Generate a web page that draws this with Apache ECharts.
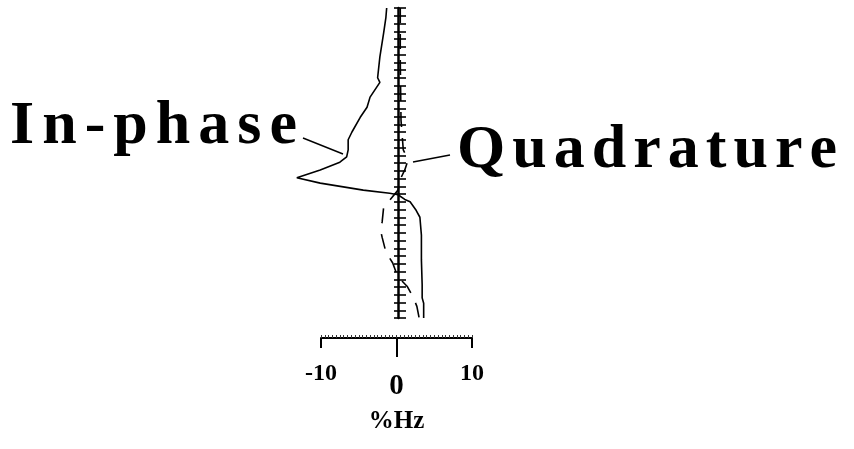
<!DOCTYPE html>
<html>
<head>
<meta charset="utf-8">
<script src="https://cdn.jsdelivr.net/npm/echarts@6/dist/echarts.min.js"></script>
<style>html,body{margin:0;padding:0;background:#fff}#main{width:854px;height:449px}</style>
</head>
<body>
<div id="main"></div>
<script>
// %Hz deviation against depth (depth counted in ticks from the top of the spine)
var inPhaseHz    = [-1.5, -1.6, -1.9, -2.4, -2.7, -2.4, -3.7, -4.1, -5.0, -6.1, -6.6, -6.6, -6.8, -7.7, -10.3, -13.4, -10.3, -4.6, -1.1, 0, 0.9, 1.6, 2.4, 2.9, 3.1, 3.1, 3.2, 3.2, 3.4, 3.4];
var inPhaseDepth = [0, 1.2, 3.2, 6.3, 9.0, 9.6, 11.5, 12.8, 14.1, 16.0, 17.0, 18.3, 19.2, 19.9, 20.9, 21.9, 22.6, 23.5, 23.9, 24.1, 24.7, 25.0, 26.1, 27.0, 29.3, 32.5, 35.7, 37.4, 38.1, 40];
var quadHz       = [0.3, 0.3, 0.4, 0.7, 1.1, 1.2, 0.9, 0.4, 0, -1.1, -1.9, -2.1, -2.3, -2.1, -1.6, -0.7, -0.1, 0.5, 1.2, 2.0, 2.5, 2.8];
var quadDepth    = [0, 6.7, 14.5, 18.3, 19.1, 20.0, 20.9, 21.9, 23.5, 24.8, 25.7, 27.6, 28.7, 29.6, 31.5, 32.9, 34.5, 35.2, 35.9, 37.3, 38.5, 40];
var scaleTicks = [-10, 10];
var scaleZero = [0];

var FONT = '"Liberation Serif", "Times New Roman", serif';

function pairs(xs, ys) {
  return xs.map(function (v, i) { return [v, ys[i]]; });
}

// big labels are letter spaced, so place each letter
var ctx = document.createElement('canvas').getContext('2d');
function spacedText(str, left, right, y, size) {
  ctx.font = 'bold ' + size + 'px ' + FONT;
  var chars = str.split('');
  var widths = chars.map(function (c) { return ctx.measureText(c).width; });
  var total = widths.reduce(function (a, b) { return a + b; }, 0);
  var gap = (right - left - total) / (chars.length - 1);
  var x = left;
  return chars.map(function (c, i) {
    var el = {
      type: 'text', x: x, y: y,
      style: { text: c, font: 'bold ' + size + 'px ' + FONT, fill: '#000', verticalAlign: 'middle' }
    };
    x += widths[i] + gap;
    return el;
  });
}

var myChart = echarts.init(document.getElementById('main'));
var option = {
  backgroundColor: '#fff',
  animation: false,
  grid: [
    { left: 284.75, top: 8, width: 188.75, height: 310 },
    { left: 321, top: 300, width: 151, height: 38 }
  ],
  xAxis: [
    { gridIndex: 0, type: 'value', min: -15, max: 10, show: false },
    { // scale bar, labels at +-10
      gridIndex: 1, type: 'value', min: -10, max: 10, interval: 10, position: 'bottom',
      axisLine: { onZero: false, lineStyle: { color: '#000', width: 2 } },
      axisTick: { customValues: scaleTicks, length: 10, lineStyle: { color: '#000', width: 2 } },
      axisLabel: { customValues: scaleTicks, margin: 24, color: '#000', fontSize: 24, fontWeight: 'bold', fontFamily: FONT },
      splitLine: { show: false },
      name: '%Hz', nameLocation: 'middle', nameGap: 71,
      nameTextStyle: { color: '#000', fontSize: 25, fontWeight: 'bold', fontFamily: FONT }
    },
    { // long centre tick and 0
      gridIndex: 1, type: 'value', min: -10, max: 10, interval: 10, position: 'bottom',
      axisLine: { show: false, onZero: false },
      axisTick: { customValues: scaleZero, length: 19, lineStyle: { color: '#000', width: 2 } },
      axisLabel: { customValues: scaleZero, margin: 34, color: '#000', fontSize: 29, fontWeight: 'bold', fontFamily: FONT },
      splitLine: { show: false }
    },
    { // fine hatching on the bar
      gridIndex: 1, type: 'value', min: -10, max: 10, interval: 0.5, position: 'bottom',
      axisLine: { show: false, onZero: false },
      axisTick: { inside: true, length: 3, lineStyle: { color: '#333', width: 1 } },
      axisLabel: { show: false },
      splitLine: { show: false }
    }
  ],
  yAxis: [
    {
      gridIndex: 0, type: 'value', min: 0, max: 40, interval: 1, inverse: true,
      axisLine: { onZero: true, onZeroAxisIndex: 0, lineStyle: { color: '#000', width: 2.5 } },
      axisTick: { inside: true, length: 8, lineStyle: { color: '#000', width: 1.6 } },
      axisLabel: { show: false },
      splitLine: { show: false }
    },
    {
      gridIndex: 0, type: 'value', min: 0, max: 40, interval: 1, inverse: true, position: 'left',
      axisLine: { show: false, onZero: true, onZeroAxisIndex: 0 },
      axisTick: { inside: false, length: 4, lineStyle: { color: '#000', width: 1.6 } },
      axisLabel: { show: false },
      splitLine: { show: false }
    },
    { gridIndex: 1, type: 'value', min: 0, max: 1, show: false }
  ],
  series: [
    {
      name: 'In-phase', type: 'line', xAxisIndex: 0, yAxisIndex: 0,
      data: pairs(inPhaseHz, inPhaseDepth), symbol: 'none', clip: false,
      lineStyle: { color: '#000', width: 1.6 }
    },
    {
      name: 'Quadrature', type: 'line', xAxisIndex: 0, yAxisIndex: 0,
      data: pairs(quadHz, quadDepth), symbol: 'none', clip: false,
      lineStyle: { color: '#000', width: 1.6, type: [15, 11] }
    }
  ],
  graphic: spacedText('In-phase', 10, 297, 127, 62)
    .concat(spacedText('Quadrature', 457, 837, 151, 62))
    .concat([
      { type: 'line', shape: { x1: 303, y1: 138, x2: 343, y2: 154 }, style: { stroke: '#000', lineWidth: 1.5 } },
      { type: 'line', shape: { x1: 413, y1: 162, x2: 450, y2: 155 }, style: { stroke: '#000', lineWidth: 1.5 } }
    ])
};

myChart.setOption(option);
</script>
</body>
</html>
